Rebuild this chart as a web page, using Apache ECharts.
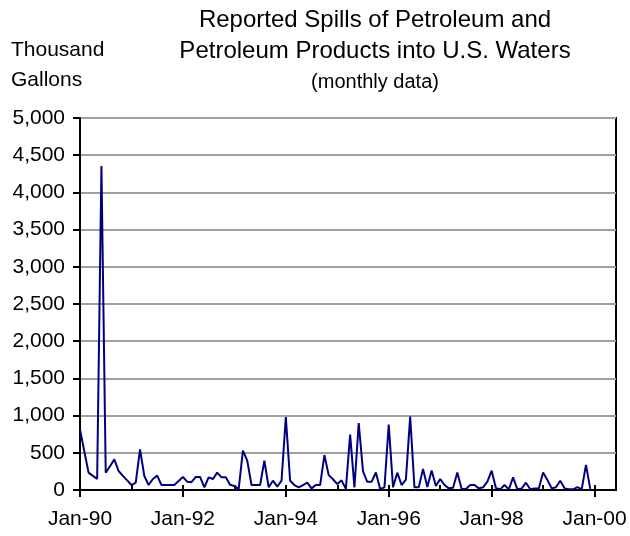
<!DOCTYPE html>
<html>
<head>
<meta charset="utf-8">
<script src="https://cdn.jsdelivr.net/npm/echarts@6/dist/echarts.min.js"></script>
<style>
html,body{margin:0;padding:0;background:#fff;}
#chart{width:630px;height:536px;}
</style>
</head>
<body>
<div id="chart"></div>
<script>
// Monthly reported spills, thousand gallons
const monthNames = ['Jan','Feb','Mar','Apr','May','Jun','Jul','Aug','Sep','Oct','Nov','Dec'];
const yearLabels = ['90','91','92','93','94','95','96','97','98','99','00'];
const spills1990 = [815, 520, 233, 190, 150, 4355, 233, 320, 412, 255, 190, 130];
const spills1991 = [67, 98, 546, 188, 67, 148, 193, 67, 67, 67, 67, 120];
const spills1992 = [175, 112, 105, 175, 175, 36, 170, 148, 233, 170, 170, 70];
const spills1993 = [55, 12, 530, 395, 67, 67, 67, 395, 36, 125, 45, 125];
const spills1994 = [980, 125, 67, 36, 67, 98, 22, 67, 67, 470, 200, 145];
const spills1995 = [80, 130, 15, 745, 36, 900, 250, 110, 110, 235, 15, 36];
const spills1996 = [880, 36, 233, 67, 140, 986, 36, 36, 284, 40, 262, 55];
const spills1997 = [148, 67, 22, 30, 235, 15, 15, 67, 67, 22, 36, 112];
const spills1998 = [260, 25, 9, 67, 9, 170, 9, 20, 98, 9, 20, 20];
const spills1999 = [236, 136, 22, 36, 125, 22, 9, 9, 40, 9, 338, 15];
const yTicks = [0, 500, 1000, 1500, 2000, 2500, 3000, 3500, 4000, 4500, 5000];

const values = [].concat(spills1990, spills1991, spills1992, spills1993, spills1994,
  spills1995, spills1996, spills1997, spills1998, spills1999);

// categories Jan-90 ... Jun-00 (axis extends a little past Jan-00)
const categories = [];
for (let y = 0; y < yearLabels.length; y++) {
  for (let m = 0; m < 12; m++) {
    if (y === yearLabels.length - 1 && m > 5) break;
    categories.push(monthNames[m] + '-' + yearLabels[y]);
  }
}

const chart = echarts.init(document.getElementById('chart'), null, {renderer: 'canvas'});
const font = '"Liberation Sans", Arial, sans-serif';
const fmt = v => v.toLocaleString('en-US');

chart.setOption({
  animation: false,
  backgroundColor: '#fff',
  textStyle: {fontFamily: font},
  title: [
    {
      text: 'Reported Spills of Petroleum and\nPetroleum Products into U.S. Waters',
      left: 370, top: 0, textAlign: 'center',
      textStyle: {fontFamily: font, fontSize: 24, fontWeight: 'normal', color: '#000', lineHeight: 31}
    },
    {
      text: '(monthly data)',
      left: 370, top: 67, textAlign: 'center',
      textStyle: {fontFamily: font, fontSize: 20, fontWeight: 'normal', color: '#000'}
    },
    {
      text: 'Thousand\nGallons',
      left: 6, top: 30,
      textStyle: {fontFamily: font, fontSize: 21, fontWeight: 'normal', color: '#000', lineHeight: 30}
    }
  ],
  grid: {left: 80, right: 14, top: 118, bottom: 46, show: true, borderColor: '#000', borderWidth: 2, backgroundColor: 'transparent'},
  xAxis: [
    {
      type: 'category', data: categories, boundaryGap: false, position: 'bottom',
      axisLine: {lineStyle: {color: '#000', width: 2}},
      axisTick: {show: true, inside: false, length: 7, interval: i => i % 24 === 0, lineStyle: {color: '#000', width: 2}},
      axisLabel: {interval: i => i % 24 === 0, margin: 19, fontSize: 21, fontFamily: font, color: '#000'},
      splitLine: {show: false}
    },
    {
      type: 'category', data: categories, boundaryGap: false, position: 'bottom',
      axisLine: {show: false},
      axisTick: {show: true, inside: true, length: 5, interval: i => i % 12 === 0, lineStyle: {color: '#000', width: 2}},
      axisLabel: {show: false},
      splitLine: {show: false}
    }
  ],
  yAxis: {
    type: 'value', min: yTicks[0], max: yTicks[yTicks.length - 1], interval: yTicks[1] - yTicks[0],
    axisLine: {show: true, lineStyle: {color: '#000', width: 2}},
    axisTick: {show: true, length: 7, lineStyle: {color: '#000', width: 2}},
    axisLabel: {margin: 15, fontSize: 21, fontFamily: font, color: '#000', formatter: fmt},
    splitLine: {show: true, lineStyle: {color: '#a0a0a0', width: 2}}
  },
  series: [{
    type: 'line', data: values, xAxisIndex: 0,
    showSymbol: false, symbol: 'none',
    lineStyle: {color: '#000080', width: 2},
    z: 3
  }]
});
</script>
</body>
</html>
